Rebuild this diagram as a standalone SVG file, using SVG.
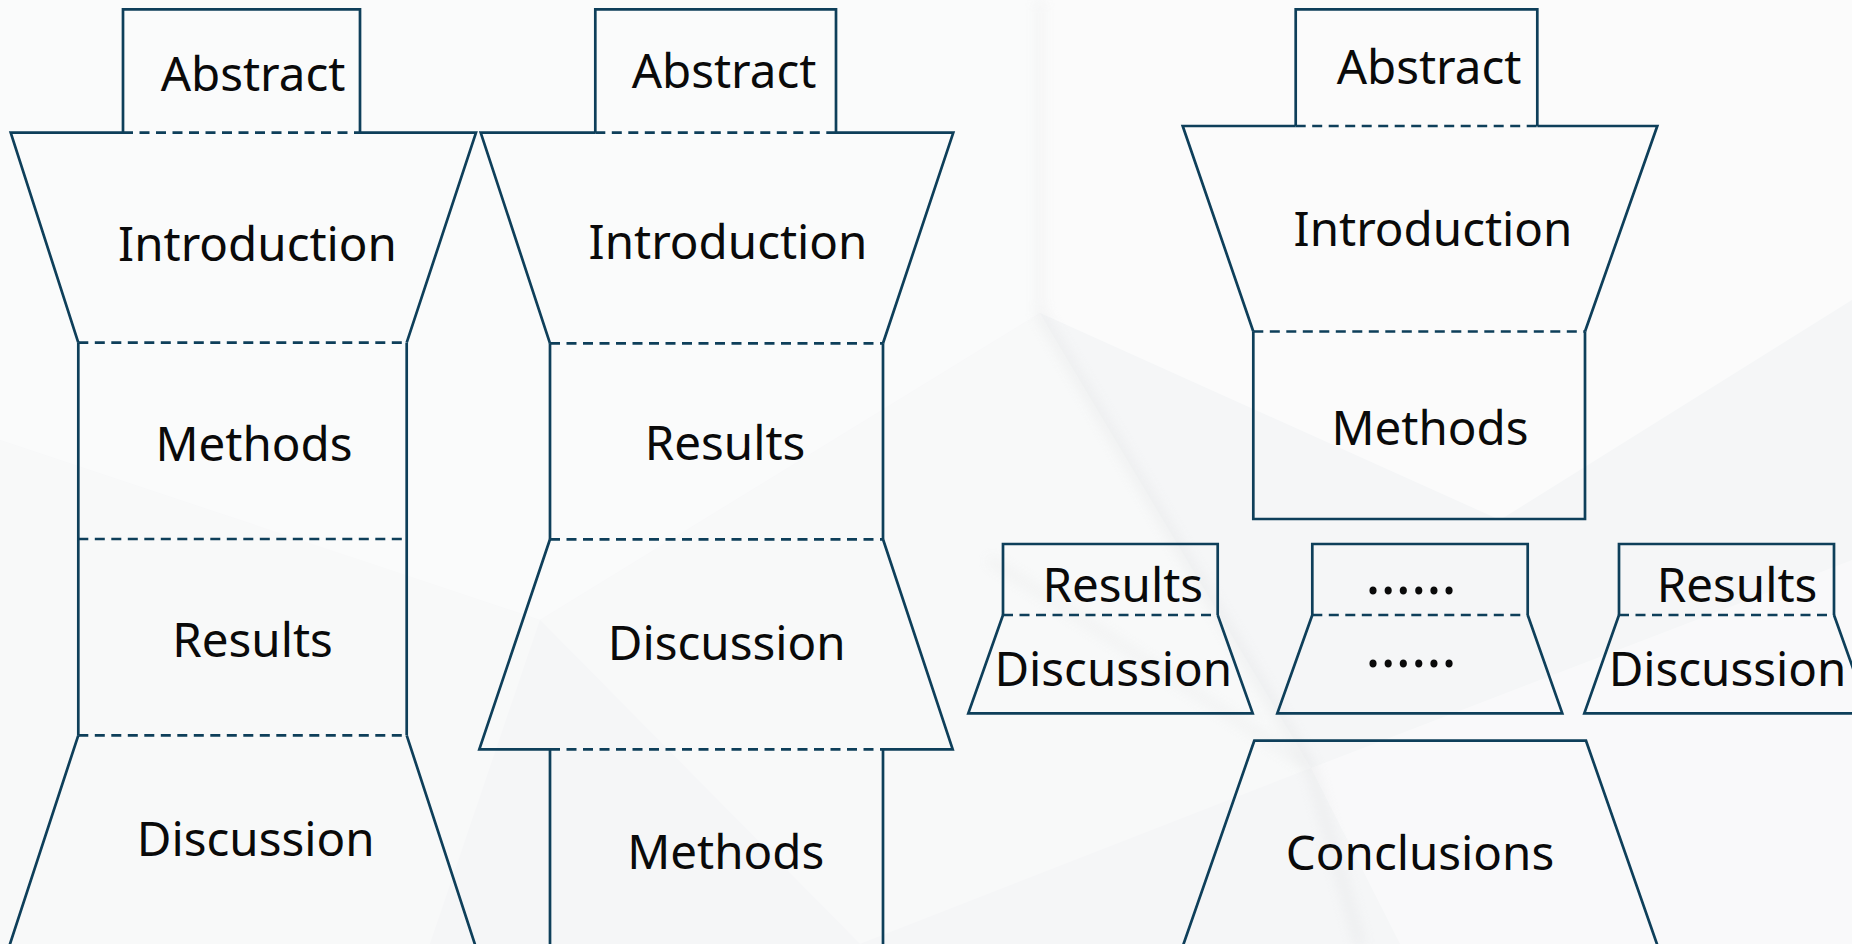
<svg xmlns="http://www.w3.org/2000/svg" width="1852" height="944" viewBox="0 0 1852 944">
  <defs>
    <style>
      .edge{fill:none;stroke:#0e3f5a;stroke-width:2.7;stroke-linejoin:miter}
      .div{fill:none;stroke:#0e3f5a;stroke-width:2.7;stroke-dasharray:10 6.5}
      .lbl{font-family:"Noto Sans","Liberation Sans",sans-serif;font-size:47.5px;fill:#0a0a0a;text-anchor:middle}
      .facet{fill:#ffffff}
      .streak{fill:none;stroke:#d4d6d8;stroke-linecap:round}
    </style>
    <filter id="blur" x="-10%" y="-10%" width="120%" height="120%">
      <feGaussianBlur stdDeviation="7"/>
    </filter>
  </defs>

  <g id="background">
    <rect x="0" y="0" width="1852" height="944" fill="#f5f6f7"/>
    <polygon class="facet" opacity="0.5" points="0,0 1040,0 1040,313 540,620 0,440"/>
    <polygon class="facet" opacity="0.3" points="1040,313 1311,768 860,944 540,620"/>
    <polygon class="facet" opacity="0.55" points="1040,0 1852,0 1852,300 1500,520 1040,313"/>
    <polygon class="facet" opacity="0.4" points="1311,768 1852,560 1852,944 1400,944"/>
    <polygon class="facet" opacity="0.3" points="0,440 540,620 430,944 0,944"/>
    <g filter="url(#blur)" opacity="0.45">
      <path class="streak" stroke-width="6" d="M1040,313 L1311,768 L1360,944"/>
      <path class="streak" stroke-width="4" d="M1040,0 L1040,313"/>
      <path class="streak" stroke-width="4" d="M990,560 L1311,768"/>
    </g>
  </g>

  <!-- Column 1 -->
  <g id="c1-abstract">
    <path class="edge" d="M123,132.7 V9.3 H360 V132.7"/>
    <text class="lbl" x="253" y="90.7">Abstract</text>
  </g>
  <g id="c1-introduction">
    <path class="edge" d="M123,132.7 H10.7 L78.3,342.7 M360,132.7 H476 L406.7,342.7"/>
    <path class="div" d="M123,132.7 H360"/>
    <text class="lbl" x="257.5" y="261">Introduction</text>
  </g>
  <g id="c1-methods">
    <path class="edge" d="M78.3,342.7 V539 M406.7,342.7 V539"/>
    <path class="div" d="M78.3,342.7 H406.7"/>
    <text class="lbl" x="254" y="461">Methods</text>
  </g>
  <g id="c1-results">
    <path class="edge" d="M78.3,539 V735.3 M406.7,539 V735.3"/>
    <path class="div" d="M78.3,539 H406.7"/>
    <text class="lbl" x="252.5" y="656.7">Results</text>
  </g>
  <g id="c1-discussion">
    <path class="edge" d="M78.3,735.3 L9,947 M406.7,735.3 L475.8,947"/>
    <path class="div" d="M78.3,735.3 H406.7"/>
    <text class="lbl" x="255.7" y="856">Discussion</text>
  </g>

  <!-- Column 2 -->
  <g id="c2-abstract">
    <path class="edge" d="M595.3,132.7 V9.3 H836 V132.7"/>
    <text class="lbl" x="724" y="88.3">Abstract</text>
  </g>
  <g id="c2-introduction">
    <path class="edge" d="M595.3,132.7 H480.7 L550,343.3 M836,132.7 H953.3 L883,343.3"/>
    <path class="div" d="M595.3,132.7 H836"/>
    <text class="lbl" x="728" y="259">Introduction</text>
  </g>
  <g id="c2-results">
    <path class="edge" d="M550,343.3 V539.3 M883,343.3 V539.3"/>
    <path class="div" d="M550,343.3 H883"/>
    <text class="lbl" x="725" y="460">Results</text>
  </g>
  <g id="c2-discussion">
    <path class="edge" d="M550,539.3 L479.3,749.3 H550 M883,539.3 L952.7,749.3 H883"/>
    <path class="div" d="M550,539.3 H883"/>
    <text class="lbl" x="726.7" y="660">Discussion</text>
  </g>
  <g id="c2-methods">
    <path class="edge" d="M550,749.3 V947 M883,749.3 V947"/>
    <path class="div" d="M550,749.3 H883"/>
    <text class="lbl" x="725.7" y="869.3">Methods</text>
  </g>

  <!-- Column 3 -->
  <g id="c3-abstract">
    <path class="edge" d="M1295.7,126 V9.3 H1537.3 V126"/>
    <text class="lbl" x="1429" y="84">Abstract</text>
  </g>
  <g id="c3-introduction">
    <path class="edge" d="M1295.7,126 H1182.7 L1253.3,331.5 M1537.3,126 H1657.3 L1585,331.5"/>
    <path class="div" d="M1295.7,126 H1537.3"/>
    <text class="lbl" x="1433" y="246">Introduction</text>
  </g>
  <g id="c3-methods">
    <path class="edge" d="M1253.3,331.5 V519 H1585 V331.5"/>
    <path class="div" d="M1253.3,331.5 H1585"/>
    <text class="lbl" x="1430" y="445.3">Methods</text>
  </g>

  <g id="c3-results-a">
    <path class="edge" d="M1003,615 V544 H1217.7 V615"/>
    <text class="lbl" x="1122.8" y="601.7">Results</text>
  </g>
  <g id="c3-discussion-a">
    <path class="edge" d="M1003,615 L968.3,713.3 H1252.7 L1217.7,615"/>
    <path class="div" d="M1003,615 H1217.7"/>
    <text class="lbl" x="1113.3" y="685.7">Discussion</text>
  </g>

  <g id="c3-more-a">
    <path class="edge" d="M1312.3,615 V544 H1527.7 V615"/>
    <text class="lbl" transform="translate(1411,594) scale(1.22)" x="0" y="0">……</text>
  </g>
  <g id="c3-more-b">
    <path class="edge" d="M1312.3,615 L1277.3,713.3 H1562.3 L1527.7,615"/>
    <path class="div" d="M1312.3,615 H1527.7"/>
    <text class="lbl" transform="translate(1411,667) scale(1.22)" x="0" y="0">……</text>
  </g>

  <g id="c3-results-b">
    <path class="edge" d="M1619,615 V544 H1834 V615"/>
    <text class="lbl" x="1737" y="601.7">Results</text>
  </g>
  <g id="c3-discussion-b">
    <path class="edge" d="M1619,615 L1584.3,713.3 H1869 L1834,615"/>
    <path class="div" d="M1619,615 H1834"/>
    <text class="lbl" x="1727.5" y="685.7">Discussion</text>
  </g>

  <g id="c3-conclusions">
    <path class="edge" d="M1182.5,947 L1254.3,740.7 H1586 L1658,947"/>
    <text class="lbl" x="1420" y="870">Conclusions</text>
  </g>

  <g id="connectors"></g>
</svg>
